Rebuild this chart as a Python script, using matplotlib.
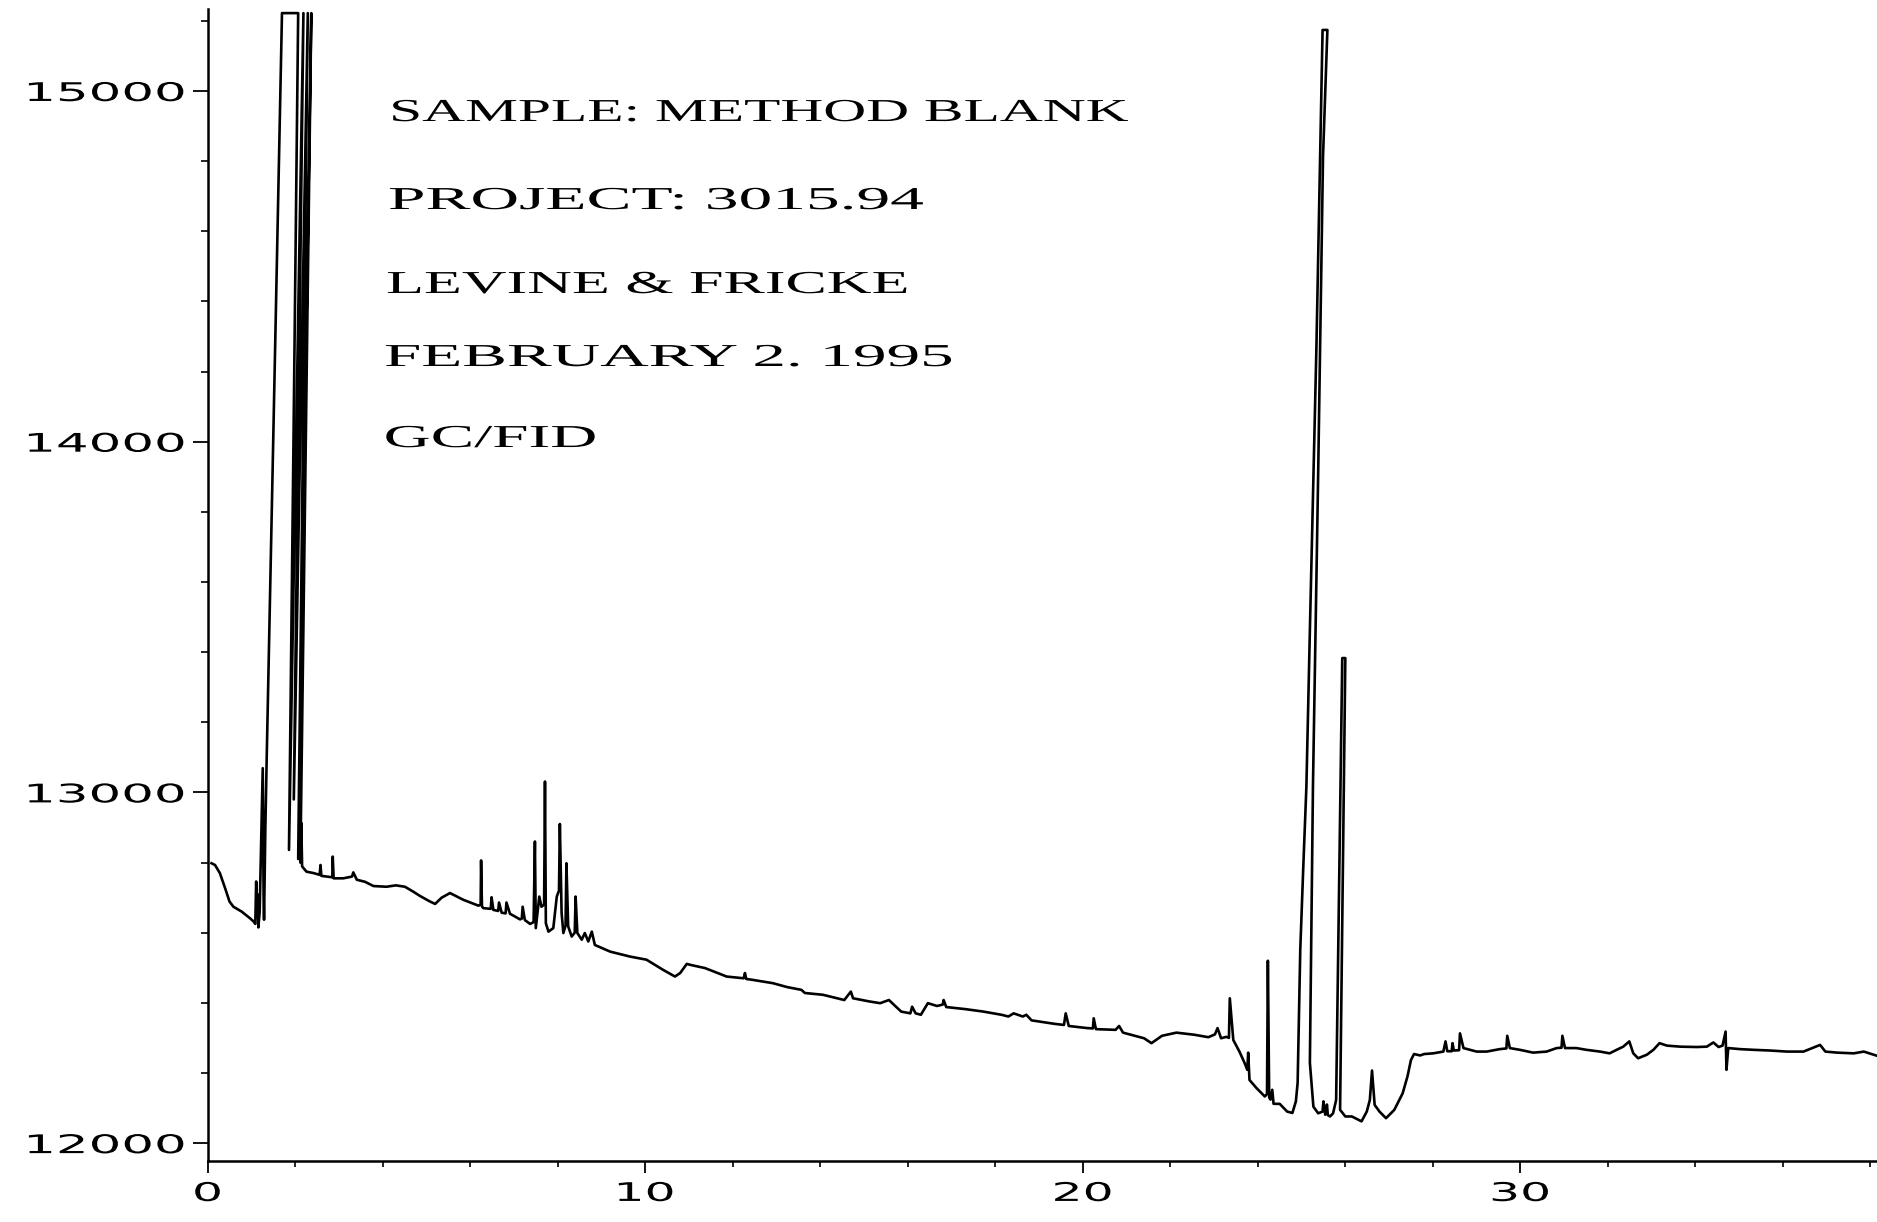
import matplotlib
matplotlib.use("Agg")
import matplotlib.pyplot as plt
import numpy as np
from matplotlib.patheffects import AbstractPathEffect
from matplotlib.ticker import MultipleLocator
from matplotlib.transforms import Affine2D

# GC/FID trace, retention time (min) vs detector response
t_start = [0.09, 0.17, 0.28, 0.40, 0.50, 0.59, 0.78, 0.97, 1.05, 1.09, 1.11, 1.13, 1.14, 1.16,
           1.19, 1.22, 1.26, 1.28, 1.29, 1.32]
s_start = [12798, 12793, 12770, 12727, 12689, 12674, 12660, 12641, 12632, 12625, 12746, 12650, 12710, 12615,
           12660, 12836, 13069, 12700, 12637, 12900]

# solvent peak, goes off scale and the pen retraces a few times on the way down
t_solvent = [1.35, 1.70, 2.07, 1.86, 2.19, 1.97, 2.29, 2.07, 2.37, 2.12, 2.14, 2.16]
s_solvent = [13093, 15222, 15222, 12836, 15222, 12980, 15222, 12810, 15222, 12800, 12913, 12789]

t_mid = [2.26, 2.42, 2.56, 2.58, 2.60, 2.72, 2.85, 2.86, 2.88, 3.10, 3.30, 3.33, 3.41, 3.60, 3.79,
         4.09, 4.30, 4.51, 4.70, 4.85, 5.08, 5.20, 5.35, 5.54, 5.84, 6.19, 6.24, 6.25, 6.27, 6.30,
         6.47, 6.49, 6.53, 6.64, 6.66, 6.72, 6.81, 6.83, 6.91, 7.14, 7.18, 7.20, 7.25, 7.37, 7.45,
         7.48, 7.50, 7.58, 7.63, 7.69, 7.71, 7.73, 7.79, 7.90, 7.98, 8.03, 8.05, 8.09, 8.13, 8.18,
         8.20, 8.24, 8.32, 8.39, 8.41, 8.45, 8.55, 8.62, 8.70, 8.78, 8.85, 9.20, 9.65, 10.03, 10.41,
         10.68, 10.80, 10.95]
s_mid = [12774, 12770, 12765, 12793, 12762, 12760, 12758, 12817, 12755, 12755, 12760, 12772, 12751, 12745, 12733,
         12731, 12735, 12731, 12717, 12705, 12689, 12682, 12700, 12713, 12694, 12677, 12680, 12806, 12675, 12670,
         12668, 12701, 12665, 12662, 12686, 12657, 12655, 12686, 12654, 12638, 12640, 12674, 12636, 12625, 12630,
         12860, 12613, 12703, 12674, 12680, 13031, 12627, 12603, 12613, 12703, 12720, 12910, 12656, 12599, 12620,
         12798, 12618, 12589, 12600, 12703, 12599, 12580, 12599, 12575, 12603, 12565, 12546, 12532, 12523, 12494,
         12475, 12485, 12511]

t_late = [11.04, 11.37, 11.86, 12.25, 12.28, 12.31, 12.43, 12.92, 13.24, 13.57, 13.65, 14.06, 14.38, 14.55,
          14.70, 14.75, 15.12, 15.37, 15.57, 15.69, 15.85, 16.06, 16.10, 16.18, 16.30, 16.46, 16.67, 16.80,
          16.82, 16.88, 17.32, 17.73, 18.14, 18.30, 18.42, 18.63, 18.71, 18.83, 19.36, 19.57, 19.61, 19.68,
          20.10, 20.23, 20.25, 20.30, 20.75, 20.83, 20.92, 21.40, 21.57, 21.81, 22.14, 22.55, 22.87, 23.02,
          23.08, 23.16, 23.28, 23.34, 23.36, 23.44]
s_late = [12508, 12499, 12475, 12470, 12485, 12468, 12466, 12456, 12445, 12437, 12428, 12423, 12413, 12408,
          12432, 12413, 12404, 12399, 12408, 12394, 12375, 12370, 12389, 12370, 12366, 12399, 12391, 12395,
          12408, 12388, 12382, 12375, 12366, 12361, 12370, 12361, 12366, 12350, 12340, 12337, 12370, 12334,
          12328, 12327, 12356, 12325, 12323, 12334, 12315, 12299, 12285, 12306, 12315, 12309, 12302, 12310,
          12328, 12299, 12303, 12300, 12413, 12294]

# baseline drop and the two big late peaks
t_peaks = [23.58, 23.70, 23.76, 23.78, 23.81, 23.97, 24.16, 24.21, 24.23, 24.26, 24.29, 24.33, 24.36, 24.50,
           24.67, 24.79, 24.87, 24.91, 24.97, 25.04, 25.11, 25.19, 25.34, 25.48, 25.59, 25.49, 25.38, 25.26,
           25.19, 25.27, 25.38, 25.48, 25.50, 25.54, 25.58, 25.60, 25.65, 25.72, 25.79, 25.93, 26.00, 25.88,
           26.00, 26.15, 26.37, 26.49, 26.56, 26.61, 26.67, 26.78, 26.93, 27.12, 27.31, 27.42, 27.50, 27.57]
s_peaks = [12261, 12228, 12209, 12258, 12180, 12157, 12133, 12140, 12520, 12130, 12124, 12152, 12112, 12112,
           12090, 12086, 12119, 12172, 12551, 12790, 13016, 13463, 14273, 15174, 15174, 14812, 13914, 13016,
           12229, 12104, 12085, 12090, 12119, 12081, 12110, 12080, 12076, 12085, 12123, 13383, 13383, 12095,
           12076, 12076, 12062, 12090, 12123, 12207, 12109, 12090, 12071, 12095, 12142, 12190, 12237, 12254]

t_tail = [27.71, 27.80, 28.01, 28.24, 28.29, 28.33, 28.43, 28.45, 28.48, 28.60, 28.62, 28.70, 29.00, 29.23,
          29.53, 29.68, 29.70, 29.76, 29.99, 30.29, 30.60, 30.83, 30.94, 30.96, 31.02, 31.28, 31.51, 31.82,
          32.04, 32.20, 32.35, 32.49, 32.58, 32.69, 32.89, 33.04, 33.18, 33.35, 33.66, 34.03, 34.26, 34.41,
          34.53, 34.62, 34.69, 34.71, 34.75, 35.02, 35.33, 35.71, 36.09, 36.47, 36.85, 36.97, 37.24, 37.62,
          37.85, 38.15]
s_tail = [12250, 12254, 12256, 12261, 12290, 12262, 12262, 12285, 12264, 12265, 12313, 12271, 12261, 12261,
          12268, 12270, 12306, 12271, 12266, 12258, 12261, 12271, 12272, 12306, 12271, 12271, 12266, 12261,
          12256, 12266, 12275, 12290, 12256, 12242, 12252, 12266, 12285, 12278, 12275, 12274, 12275, 12287,
          12274, 12278, 12318, 12209, 12271, 12268, 12266, 12264, 12261, 12261, 12280, 12261, 12258, 12256,
          12261, 12249]

header_lines = ["SAMPLE: METHOD BLANK", "PROJECT: 3015.94", "LEVINE & FRICKE", "FEBRUARY 2. 1995", "GC/FID"]
y_ticks = [12000, 13000, 14000, 15000]
x_ticks = [0, 10, 20, 30]


class Widen(AbstractPathEffect):
    """Stretch glyphs sideways; the plotter font is far wider than anything installed."""

    def __init__(self, sx, anchor="left"):
        super().__init__()
        self.sx = sx
        self.anchor = anchor

    def draw_path(self, renderer, gc, tpath, affine, rgbFace=None):
        ext = tpath.get_extents()
        x0 = {"left": ext.x0, "right": ext.x1, "center": 0.5 * (ext.x0 + ext.x1)}[self.anchor]
        stretch = Affine2D().translate(-x0, 0).scale(self.sx, 1).translate(x0, 0)
        renderer.draw_path(gc, tpath, stretch + affine, rgbFace)


W, H = 1877, 1222
fig = plt.figure(figsize=(W / 100, H / 100), dpi=100)
ax = fig.add_axes([0.1106, 0.0502, 0.8894, 0.9428])

t = np.concatenate([t_start, t_solvent, t_mid, t_late, t_peaks, t_tail])
s = np.concatenate([s_start, s_solvent, s_mid, s_late, s_peaks, s_tail])
ax.plot(t, s, color="black", lw=1.9)

ax.set_xlim(0, 38.15)
ax.set_ylim(11950, 15235)
for side in ("top", "right"):
    ax.spines[side].set_visible(False)
for side in ("left", "bottom"):
    ax.spines[side].set_linewidth(1.8)

ax.set_xticks(x_ticks, labels=[str(v) for v in x_ticks])
ax.set_yticks(y_ticks, labels=[str(v) for v in y_ticks])
ax.xaxis.set_minor_locator(MultipleLocator(2))
ax.yaxis.set_minor_locator(MultipleLocator(200))
ax.tick_params(axis="y", which="major", length=10.8, width=1.3, pad=5, labelsize=18.5)
ax.tick_params(axis="y", which="minor", length=5, width=1.2)
ax.tick_params(axis="x", which="major", length=8.6, width=1.3, pad=6, labelsize=18.5)
ax.tick_params(axis="x", which="minor", length=4.3, width=1.2)
for lab in ax.get_yticklabels():
    lab.set_path_effects([Widen(2.0, "right")])
for lab in ax.get_xticklabels():
    lab.set_path_effects([Widen(1.9, "center")])

# header block, left edges and baselines in pixels from the scan
header_x = [391, 389, 387, 385, 385]
header_y = [121, 209, 293, 366, 447]
header_sx = [1.86, 2.11, 1.94, 2.10, 2.04]
for line, x, y, sx in zip(header_lines, header_x, header_y, header_sx):
    fig.text(x / W, 1 - y / H, line, fontsize=23, family="Liberation Serif",
             ha="left", va="baseline", path_effects=[Widen(sx, "left")])

fig.savefig("out.png", dpi=100, facecolor="white")
